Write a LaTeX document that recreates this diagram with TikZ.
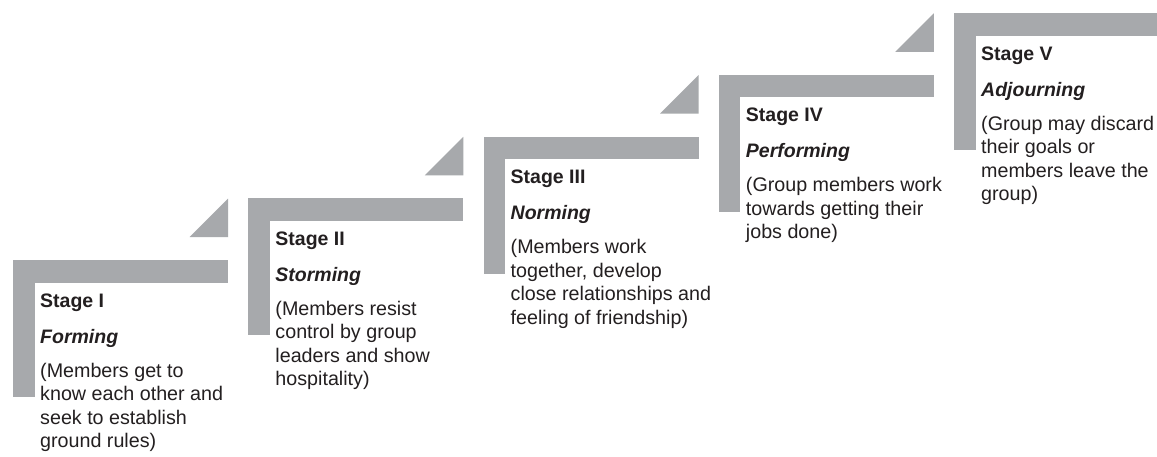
\documentclass[tikz,border=0pt]{standalone}
\usepackage{fontspec}
\setmainfont{Liberation Sans}
\definecolor{bargray}{RGB}{167,169,172}
\definecolor{txt}{RGB}{35,31,32}
\begin{document}
\begin{tikzpicture}[x=1pt,y=-1pt,
  bar/.style={fill=bargray,draw=none},
  stagetitle/.style={anchor=base west,inner sep=0pt,text=txt,font=\fontsize{19.5}{23.5}\selectfont\bfseries},
  stagesub/.style={anchor=base west,inner sep=0pt,text=txt,font=\fontsize{19.5}{23.5}\selectfont\bfseries\itshape},
  stagedesc/.style={anchor=north west,inner sep=0pt,align=left,text=txt,font=\fontsize{19.7}{23.5}\selectfont}]
\useasboundingbox (0,0) rectangle (1157,456);
\clip (0,0) rectangle (1157,456);
\fill[white] (0,0) rectangle (1157,456);
\newcommand\stagebox[4]{%
  \pgfmathsetmacro\L{13+235.25*#1}%
  \pgfmathsetmacro\T{260-61.75*#1}%
  \fill[bar] (\L,\T) rectangle ++(215,22.5);
  \fill[bar] (\L,\T) rectangle ++(21.5,137);
  \fill[bar] (\L+215,\T-23) -- ++(-38.5,0) -- ++(38.5,-38.5) -- cycle;
  \node[stagetitle] (t#1) at (\L+27,\T+47) {Stage #2};
  \node[stagesub] (s#1) at (\L+27,\T+83) {#3};
  \node[stagedesc] (d#1) at (\L+27,\T+97) {\rule{0pt}{20pt}#4};
}
\stagebox{0}{I}{Forming}{(Members get to\\know each other and\\seek to establish\\ground rules)}
\stagebox{1}{II}{Storming}{(Members resist\\control by group\\leaders and show\\hospitality)}
\stagebox{2}{III}{Norming}{(Members work\\together, develop\\close relationships and\\feeling of friendship)}
\stagebox{3}{IV}{Performing}{(Group members work\\towards getting their\\jobs done)}
\stagebox{4}{V}{Adjourning}{(Group may discard\\their goals or\\members leave the\\group)}
\end{tikzpicture}
\end{document}
